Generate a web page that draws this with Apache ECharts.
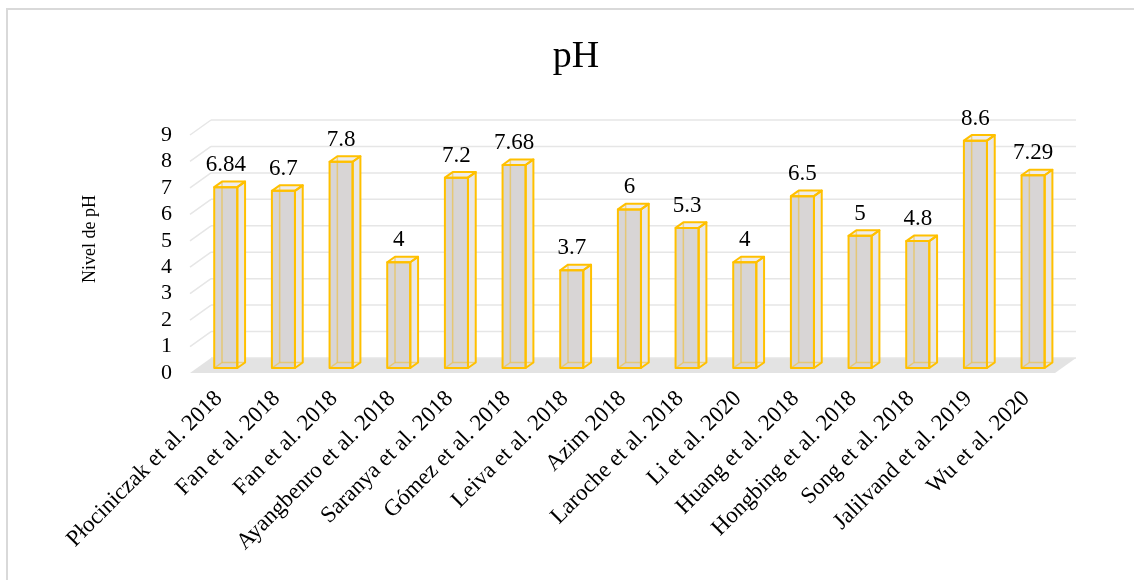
<!DOCTYPE html>
<html>
<head>
<meta charset="utf-8">
<style>
  html, body { margin: 0; padding: 0; background: #fff; }
  #chart { width: 1134px; height: 580px; }
</style>
<script src="https://cdn.jsdelivr.net/npm/echarts@6/dist/echarts.min.js"></script>
</head>
<body>
<div id="chart"></div>
<script>
// Studies and their reported soil pH
const categories = [
  'Płociniczak et al. 2018', 'Fan et al. 2018', 'Fan et al. 2018',
  'Ayangbenro et al. 2018', 'Saranya et al. 2018', 'Gómez et al. 2018',
  'Leiva et al. 2018', 'Azim 2018', 'Laroche et al. 2018', 'Li et al. 2020',
  'Huang et al. 2018', 'Hongbing et al. 2018', 'Song et al. 2018',
  'Jalilvand et al. 2019', 'Wu et al. 2020'
];
const phValues = [6.84, 6.7, 7.8, 4, 7.2, 7.68, 3.7, 6, 5.3, 4, 6.5, 5, 4.8, 8.6, 7.29];
const yTicks = [0, 1, 2, 3, 4, 5, 6, 7, 8, 9];

// Pseudo-3D depth of the plot box (pixels) and where the columns sit in it
const DEPTH_X = 21;
const DEPTH_Y = -15;
const COL_FRONT = 0.33;
const COL_BACK = 0.7;
const GOLD = '#FFC000';
const SERIF = '"Liberation Serif", "Times New Roman", serif';

// Floor, side wall and back wall gridlines, one item per tick value
function renderWalls(params, api) {
  const cs = params.coordSys;
  const v = api.value(1);
  const y = api.coord([0, v])[1];
  const x0 = cs.x;
  const x1 = cs.x + cs.width;
  const children = [];
  if (v === 0) {
    children.push({
      type: 'polygon',
      shape: { points: [[x0, y], [x1, y], [x1 + DEPTH_X, y + DEPTH_Y], [x0 + DEPTH_X, y + DEPTH_Y]] },
      style: { fill: '#e3e3e3' }
    });
  } else {
    children.push({
      type: 'line',
      shape: { x1: x0, y1: y, x2: x0 + DEPTH_X, y2: y + DEPTH_Y },
      style: { stroke: '#e6e6e6', lineWidth: 1.5 }
    });
  }
  children.push({
    type: 'line',
    shape: { x1: x0 + DEPTH_X, y1: y + DEPTH_Y, x2: x1 + DEPTH_X, y2: y + DEPTH_Y },
    style: { stroke: '#e6e6e6', lineWidth: 1.5 }
  });
  return { type: 'group', children: children };
}

// Transparent-looking box column with gold edges and its value label
function renderColumn(params, api) {
  const i = api.value(0);
  const v = api.value(1);
  const top = api.coord([i, v]);
  const base = api.coord([i, 0]);
  const band = api.size([1, 0])[0];
  const w = band * 0.4;
  const fx = top[0] - w / 2 + DEPTH_X * COL_FRONT;
  const fyT = top[1] + DEPTH_Y * COL_FRONT;
  const fyB = base[1] + DEPTH_Y * COL_FRONT;
  const dx = DEPTH_X * (COL_BACK - COL_FRONT);
  const dy = DEPTH_Y * (COL_BACK - COL_FRONT);

  const front = [[fx, fyB], [fx + w, fyB], [fx + w, fyT], [fx, fyT]];
  const side = [[fx + w, fyB], [fx + w + dx, fyB + dy], [fx + w + dx, fyT + dy], [fx + w, fyT]];
  const lid = [[fx, fyT], [fx + w, fyT], [fx + w + dx, fyT + dy], [fx + dx, fyT + dy]];
  const hidden = { stroke: 'rgba(240,190,40,0.55)', lineWidth: 1.5 };

  return {
    type: 'group',
    children: [
      { type: 'polygon', shape: { points: front }, style: { fill: '#d8d5d5' } },
      { type: 'polygon', shape: { points: side }, style: { fill: '#e9e7e7' } },
      { type: 'polygon', shape: { points: lid }, style: { fill: '#eeecec' } },
      { type: 'line', shape: { x1: fx + dx, y1: fyB + dy, x2: fx + dx, y2: fyT + dy }, style: hidden },
      { type: 'line', shape: { x1: fx + dx, y1: fyB + dy, x2: fx + w + dx, y2: fyB + dy }, style: hidden },
      { type: 'line', shape: { x1: fx, y1: fyB, x2: fx + dx, y2: fyB + dy }, style: hidden },
      { type: 'polygon', shape: { points: front }, style: { fill: 'none', stroke: GOLD, lineWidth: 2, lineJoin: 'round' } },
      { type: 'polygon', shape: { points: side }, style: { fill: 'none', stroke: GOLD, lineWidth: 2, lineJoin: 'round' } },
      { type: 'polygon', shape: { points: lid }, style: { fill: 'none', stroke: GOLD, lineWidth: 2, lineJoin: 'round' } },
      {
        type: 'text',
        style: {
          text: String(v), x: fx + w / 2, y: fyT + dy - 5,
          align: 'center', verticalAlign: 'bottom',
          font: '23px ' + SERIF, fill: '#000'
        }
      }
    ]
  };
}

const chart = echarts.init(document.getElementById('chart'));
chart.setOption({
  animation: false,
  backgroundColor: '#fff',
  grid: { left: 190, right: 79, top: 135, bottom: 207 },
  graphic: [
    {
      type: 'rect', silent: true,
      shape: { x: 7, y: 9, width: 1200, height: 620 },
      style: { fill: 'none', stroke: '#d9d9d9', lineWidth: 2 }
    },
    {
      type: 'text', x: 576, y: 57,
      style: { text: 'pH', align: 'center', verticalAlign: 'middle', font: '38px ' + SERIF, fill: '#000' }
    },
    {
      type: 'text', x: 90, y: 239, rotation: Math.PI / 2,
      style: { text: 'Nivel de pH', align: 'center', verticalAlign: 'middle', font: '18px ' + SERIF, fill: '#000' }
    }
  ],
  xAxis: {
    type: 'category',
    data: categories,
    axisLine: { show: false },
    axisTick: { show: false },
    splitLine: { show: false },
    axisLabel: {
      interval: 0, rotate: 45, margin: 22,
      fontFamily: SERIF, fontSize: 23, color: '#000'
    }
  },
  yAxis: {
    type: 'value',
    min: 0, max: 9, interval: 1,
    axisLine: { show: false },
    axisTick: { show: false },
    splitLine: { show: false },
    axisLabel: { margin: 18, fontFamily: SERIF, fontSize: 22, color: '#000' }
  },
  series: [
    {
      type: 'custom', silent: true, z: 1,
      renderItem: renderWalls,
      encode: { x: 0, y: 1 },
      data: yTicks.map(t => [0, t])
    },
    {
      type: 'custom', silent: true, z: 2,
      renderItem: renderColumn,
      encode: { x: 0, y: 1 },
      data: phValues.map((v, i) => [i, v])
    }
  ]
});
</script>
</body>
</html>
